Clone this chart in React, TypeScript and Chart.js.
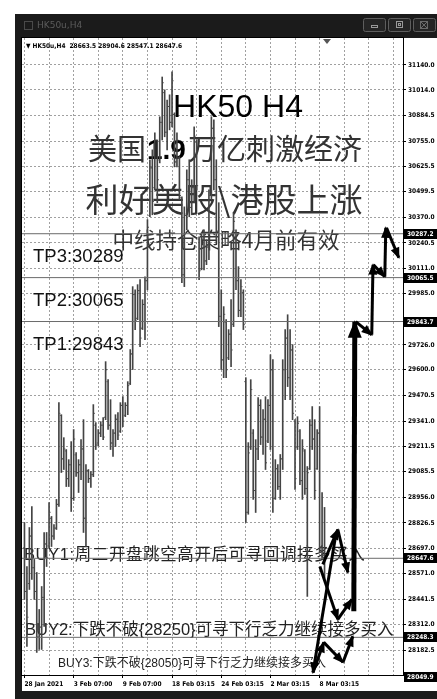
import React, { useEffect, useRef } from 'react';
import { Chart, registerables } from 'chart.js';

Chart.register(...registerables);

const CW = 437;
const CH = 699;

// ---- OHLC bars (H4), index 0 = 28 Jan 2021 ----
const barOpen = [
  28700, 28480, 28520, 28760, 28600, 28480, 28250, 28300, 28450, 28720,
  28710, 28850, 28760, 28800, 28920, 29370, 29150, 29190, 29050, 29120,
  28950, 29170, 29080, 29120, 29200, 28850, 29090, 29050, 29070, 29320,
  29230, 29280, 29320, 29360, 29540, 29320, 29230, 29280, 29350, 29290,
  29420, 29370, 29420, 29530, 29680, 29980, 29860, 30000, 29810, 29930,
  30050, 30380, 30620, 30520, 30760, 30660, 30850, 31000, 30800, 30930,
  30850, 30890, 30650, 30670, 30470, 30080, 30380, 30560, 30420, 30520,
  30750, 30260, 30110, 30260, 30150, 30220, 30480, 30820, 30560, 30300,
  29870, 29650, 29840, 29660, 29780, 29830, 30290, 30050, 29900, 29990,
  29540, 28880, 29210, 29280, 28990, 29200, 29420, 29260, 29350, 29240,
  29420, 29600, 28950, 29100, 29010, 29150, 29600, 29760, 29560, 29700,
  29340, 29210, 29290, 29040, 29190, 29000, 29100, 29320, 29250, 29100,
  29280, 28700, 28663.5,
];
const barHigh = [
  28828, 28606, 28803, 28909, 28642, 28576, 28389, 28505, 28778, 28778,
  28929, 28859, 28818, 28945, 29434, 29373, 29257, 29197, 29146, 29237,
  29298, 29182, 29146, 29247, 29348, 29121, 29096, 29086, 29424, 29333,
  29298, 29338, 29358, 29641, 29550, 29449, 29298, 29373, 29384, 29434,
  29464, 29434, 29540, 29702, 30020, 30004, 30030, 30055, 29954, 30070,
  30358, 30661, 30711, 30797, 30761, 30878, 31079, 31014, 30963, 30989,
  31105, 30898, 30797, 30676, 30474, 30423, 30610, 30661, 30560, 30827,
  30761, 30272, 30292, 30307, 30257, 30509, 30878, 30862, 30661, 30444,
  30004, 29919, 29853, 29803, 29954, 30393, 30307, 30121, 30055, 30004,
  29560, 29232, 29550, 29298, 29247, 29459, 29449, 29399, 29464, 29449,
  29676, 29651, 29146, 29121, 29172, 29651, 29803, 29878, 29803, 29727,
  29348, 29363, 29298, 29247, 29197, 29111, 29348, 29414, 29348, 29298,
  29414, 28980, 28904.6,
];
const barLow = [
  28440, 28203, 28490, 28541, 28440, 28172, 28187, 28187, 28304, 28606,
  28700, 28707, 28743, 28793, 28910, 29081, 29096, 29010, 29010, 28884,
  28940, 29061, 28980, 29045, 28778, 28707, 29030, 29005, 29060, 29197,
  29215, 29262, 29247, 29348, 29298, 29197, 29162, 29212, 29247, 29283,
  29313, 29363, 29373, 29525, 29601, 29803, 29853, 29717, 29803, 29752,
  30004, 30373, 30383, 30509, 30444, 30645, 30761, 30777, 30711, 30812,
  30827, 30625, 30625, 30459, 30040, 30020, 30307, 30373, 30383, 30444,
  30509, 30055, 30105, 30105, 30131, 30156, 30460, 30509, 30257, 29818,
  29601, 29560, 29560, 29651, 29616, 29818, 30004, 29868, 29868, 29803,
  28829, 28870, 29197, 28945, 28879, 29146, 29222, 29172, 29096, 29232,
  29197, 28879, 28945, 28995, 28945, 29096, 29449, 29515, 29449, 29348,
  28995, 29197, 29020, 28945, 28970, 28455, 29096, 29197, 28945, 29096,
  28677, 28640, 28547.1,
];
const barClose = [
  28480, 28350, 28760, 28600, 28480, 28250, 28300, 28450, 28720, 28650,
  28880, 28760, 28800, 28920, 29380, 29150, 29200, 29050, 29120, 28950,
  29250, 29080, 29120, 29200, 28850, 29090, 29050, 29070, 29380, 29220,
  29280, 29320, 29260, 29600, 29320, 29230, 29280, 29350, 29270, 29420,
  29340, 29420, 29520, 29680, 29980, 29850, 30000, 29760, 29930, 30050,
  30320, 30620, 30450, 30760, 30560, 30850, 31050, 30800, 30930, 30850,
  31060, 30650, 30760, 30480, 30080, 30380, 30560, 30420, 30520, 30780,
  30530, 30100, 30260, 30150, 30220, 30480, 30820, 30560, 30300, 29870,
  29650, 29880, 29600, 29780, 29700, 30350, 30050, 29900, 30020, 29830,
  28880, 29180, 29500, 28990, 29200, 29420, 29260, 29350, 29130, 29420,
  29600, 28950, 29100, 29010, 29150, 29600, 29760, 29560, 29700, 29380,
  29050, 29330, 29040, 29200, 29000, 29080, 29320, 29250, 28990, 29280,
  28700, 28663.5, 28647.6,
];

// ---- axes ----
const yTickValues = [
  31140.0, 31014.0, 30884.5, 30755.0, 30625.5, 30499.5, 30370.0, 30240.5,
  30111.0, 29985.0, 29726.0, 29600.0, 29470.5, 29341.0, 29211.5, 29085.5,
  28956.0, 28826.5, 28697.0, 28571.0, 28441.5, 28312.0, 28182.5,
];
const gridIndex = [0, 10, 20, 30, 40, 50, 60, 70, 80, 90, 100, 110, 120, 130, 140, 150];
const dateLabelIndex = [0, 20, 40, 60, 80, 100, 120];
const dateLabels = [
  '28 Jan 2021', '3 Feb 07:00', '9 Feb 07:00', '18 Feb 03:15',
  '24 Feb 03:15', '2 Mar 03:15', '8 Mar 03:15',
];
const X_MIN = -1;
const X_MAX = 153.9;
const Y_MIN = 28058;
const Y_MAX = 31276;

// ---- horizontal levels ----
const levelValues = [30287.2, 30065.5, 29843.7, 28647.6, 28248.3, 28049.9];
const tpLevels = [30287.2, 30065.5, 29843.7];
const tpTexts = ['TP3:30289', 'TP2:30065', 'TP1:29843'];
const buyTexts = [
  'BUY1:周二开盘跳空高开后可寻回调接多买入',
  'BUY2:下跌不破{28250}可寻下行乏力继续接多买入',
  'BUY3:下跌不破{28050}可寻下行乏力继续接多买入',
];
const headline = 'HK50 H4';
const line1 = ['美国', '1.9', '万亿刺激经济'];
const line2 = '利好美股\\港股上涨';
const line3 = '中线持仓策略4月前有效';
const symbol = 'HK50u,H4';
const headerValues = [28663.5, 28904.6, 28547.1, 28647.6];

// ---- projected path arrows (bar index, price) ----
const arrowFromIdx = [121.3, 127.4, 120.1, 127.4, 126.6, 117.3, 121.7, 129.5, 133.9, 134.7, 141.2, 141.9, 146.5, 147.2];
const arrowFromPrice = [28617, 28793, 28606, 28339, 28768, 28071, 28223, 28122, 28380, 29843, 29777, 30131, 30070, 30317];
const arrowToIdx = [127.4, 131.5, 127.4, 133.1, 117.3, 121.7, 129.5, 133.5, 134.3, 141.2, 141.7, 146.5, 146.9, 152.2];
const arrowToPrice = [28793, 28576, 28339, 28440, 28071, 28223, 28122, 28253, 29843, 29777, 30131, 30070, 30317, 30166];
const HEAVY_ARROW = 8;

const LEVEL_DS_START = 1;
const ARROW_DS_START = LEVEL_DS_START + levelValues.length;

function arrowHead(ctx: any, x0: number, y0: number, x1: number, y1: number, len: number, half: number) {
  const a = Math.atan2(y1 - y0, x1 - x0);
  const c = Math.cos(a);
  const s = Math.sin(a);
  ctx.beginPath();
  ctx.moveTo(x1 + c * 1.5, y1 + s * 1.5);
  ctx.lineTo(x1 - len * c + half * s, y1 - len * s - half * c);
  ctx.lineTo(x1 - len * c - half * s, y1 - len * s + half * c);
  ctx.closePath();
  ctx.fill();
}

const sceneryPlugin = {
  id: 'scenery',
  beforeDraw(chart: any) {
    const ctx = chart.ctx;
    ctx.save();
    ctx.fillStyle = '#ffffff';
    ctx.fillRect(0, 0, CW, CH);
    ctx.fillStyle = '#1b1b1b';
    ctx.fillRect(15, 14, CW - 15, 24);
    ctx.fillRect(15, 14, 7, CH - 14);
    ctx.fillRect(15, 691, CW - 15, CH - 691);
    ctx.restore();
  },
  beforeDatasetsDraw(chart: any) {
    const ctx = chart.ctx;
    const ys = chart.scales.y;
    ctx.save();
    ctx.fillStyle = '#000';
    ctx.textAlign = 'center';
    ctx.textBaseline = 'alphabetic';
    ctx.font = '32px "Liberation Sans"';
    ctx.fillText(headline, 238, 117);

    const cjk = (s: number) => `${s}px "Noto Sans CJK SC"`;
    const cjkColor = '#333333';
    ctx.textAlign = 'left';
    let x = 88;
    ctx.fillStyle = cjkColor;
    ctx.textBaseline = 'middle';
    ctx.font = cjk(29);
    ctx.fillText(line1[0], x, 149);
    x += ctx.measureText(line1[0]).width + 1;
    ctx.fillStyle = '#000';
    ctx.textBaseline = 'alphabetic';
    ctx.font = 'bold 28px "Liberation Sans"';
    ctx.fillText(line1[1], x, 159);
    x += ctx.measureText(line1[1]).width + 2;
    ctx.fillStyle = cjkColor;
    ctx.textBaseline = 'middle';
    ctx.font = cjk(29);
    ctx.fillText(line1[2], x, 149);

    ctx.textAlign = 'center';
    ctx.font = cjk(33);
    ctx.fillText(line2, 224, 199);
    ctx.font = cjk(21.5);
    ctx.fillText(line3, 226, 240);

    ctx.textAlign = 'left';
    ctx.textBaseline = 'alphabetic';
    ctx.fillStyle = '#111';
    ctx.font = '18.5px "Liberation Sans"';
    tpTexts.forEach((t, i) => ctx.fillText(t, 33, ys.getPixelForValue(tpLevels[i]) + 28));

    ctx.fillStyle = '#222';
    ctx.font = '16.5px "Liberation Sans", "Noto Sans CJK SC"';
    (ctx as any).letterSpacing = '0.6px';
    ctx.fillText(buyTexts[0], 24, 560);
    (ctx as any).letterSpacing = '0px';
    ctx.fillText(buyTexts[1], 25, 635);
    ctx.font = '12px "Liberation Sans", "Noto Sans CJK SC"';
    ctx.fillText(buyTexts[2], 58, 667);
    ctx.restore();
  },
  afterDatasetDraw(chart: any, args: any) {
    const ctx = chart.ctx;
    const ca = chart.chartArea;
    if (args.index === 0) {
      const xs = chart.scales.x;
      const ys = chart.scales.y;
      ctx.save();
      ctx.beginPath();
      ctx.rect(ca.left, ca.top, ca.right - ca.left, ca.bottom - ca.top);
      ctx.clip();
      ctx.fillStyle = '#444';
      for (let i = 0; i < barOpen.length; i++) {
        const px = xs.getPixelForValue(i);
        const yo = ys.getPixelForValue(barOpen[i]);
        const yc = ys.getPixelForValue(barClose[i]);
        ctx.fillRect(px - 1.5, yo - 0.5, 1, 1);
        ctx.fillRect(px + 0.5, yc - 0.5, 1, 1);
      }
      ctx.restore();
    } else if (args.index >= ARROW_DS_START) {
      const k = args.index - ARROW_DS_START;
      const meta = chart.getDatasetMeta(args.index);
      const p0 = meta.data[0];
      const p1 = meta.data[1];
      ctx.save();
      ctx.fillStyle = '#000';
      if (k === HEAVY_ARROW) arrowHead(ctx, p0.x, p0.y, p1.x, p1.y, 16, 7);
      else arrowHead(ctx, p0.x, p0.y, p1.x, p1.y, 10, 4.5);
      ctx.restore();
    }
  },
  afterDraw(chart: any) {
    const ctx = chart.ctx;
    const ca = chart.chartArea;
    const ys = chart.scales.y;
    ctx.save();
    ctx.strokeStyle = '#000';
    ctx.lineWidth = 1;
    ctx.strokeRect(ca.left - 0.5, ca.top - 0.5, ca.right - ca.left + 1, ca.bottom - ca.top + 1);

    ctx.font = 'bold 6.5px "DejaVu Sans Condensed"';
    ctx.textBaseline = 'middle';
    ctx.textAlign = 'left';
    levelValues.forEach((v) => {
      const y = Math.round(ys.getPixelForValue(v));
      ctx.fillStyle = '#000';
      ctx.fillRect(404, y - 5, CW - 404, 10);
      ctx.fillStyle = '#fff';
      ctx.fillText(v.toFixed(1), 407, y + 0.5);
    });

    ctx.fillStyle = '#000';
    ctx.font = 'bold 6.5px "DejaVu Sans Condensed"';
    ctx.fillText('▼ ' + symbol + '  ' + headerValues.map((v) => v.toFixed(1)).join(' '), 26, 46);

    ctx.fillStyle = '#555';
    ctx.beginPath();
    ctx.moveTo(323, 39);
    ctx.lineTo(331, 39);
    ctx.lineTo(327, 44);
    ctx.closePath();
    ctx.fill();

    ctx.fillStyle = '#5c5c5c';
    ctx.font = '9px "DejaVu Sans"';
    ctx.fillText(symbol, 37, 26);
    ctx.strokeStyle = '#4a4a4a';
    ctx.strokeRect(24.5, 21.5, 8, 8);
    const bx = [363, 388, 413];
    bx.forEach((b, k) => {
      ctx.fillStyle = '#252525';
      ctx.strokeStyle = '#5e5e5e';
      ctx.beginPath();
      (ctx as any).roundRect(b + 0.5, 18.5, 22, 13, 2);
      ctx.fill();
      ctx.stroke();
      ctx.strokeStyle = '#9a9a9a';
      if (k === 0) {
        ctx.strokeRect(b + 8.5, 25.5, 6, 2);
      } else if (k === 1) {
        ctx.strokeRect(b + 8.5, 21.5, 6, 6);
        ctx.strokeRect(b + 10.5, 23.5, 2, 2);
      } else {
        ctx.strokeStyle = '#6a6a6a';
        ctx.strokeRect(b + 7.5, 21.5, 7, 7);
        ctx.beginPath();
        ctx.moveTo(b + 8, 22);
        ctx.lineTo(b + 14, 28);
        ctx.moveTo(b + 14, 22);
        ctx.lineTo(b + 8, 28);
        ctx.stroke();
      }
    });
    ctx.restore();
  },
};

export default function App() {
  const ref = useRef<HTMLCanvasElement | null>(null);

  useEffect(() => {
    if (!ref.current) return;
    const datasets: any[] = [];
    datasets.push({
      type: 'bar',
      data: barHigh.map((h, i) => ({ x: i, y: [barLow[i], h] })),
      backgroundColor: '#444',
      borderWidth: 0,
      barThickness: 1,
      order: 3,
    });
    levelValues.forEach((v) => {
      datasets.push({
        type: 'line',
        data: [{ x: X_MIN, y: v }, { x: X_MAX, y: v }],
        borderColor: '#6a6a6a',
        borderWidth: 1,
        pointRadius: 0,
        fill: false,
        order: 2,
      });
    });
    arrowFromIdx.forEach((_, k) => {
      datasets.push({
        type: 'line',
        data: [
          { x: arrowFromIdx[k], y: arrowFromPrice[k] },
          { x: arrowToIdx[k], y: arrowToPrice[k] },
        ],
        borderColor: '#000',
        borderWidth: k === HEAVY_ARROW ? 5 : 3,
        borderCapStyle: 'butt',
        pointRadius: 0,
        fill: false,
        order: 1,
      });
    });

    const gridStyle = {
      color: '#a0a0a0',
      lineWidth: 1,
      drawTicks: true,
      tickLength: 3,
      tickBorderDash: [],
      offset: false,
    };

    const chart = new Chart(ref.current, {
      type: 'bar',
      data: { datasets },
      options: {
        responsive: false,
        animation: false,
        devicePixelRatio: 1,
        events: [],
        layout: { padding: { left: 22, top: 38, right: 0, bottom: 0 } },
        plugins: { legend: { display: false }, tooltip: { enabled: false } },
        scales: {
          x: {
            type: 'linear',
            min: X_MIN,
            max: X_MAX,
            offset: false,
            afterBuildTicks: (axis: any) => {
              axis.ticks = gridIndex.map((v) => ({ value: v }));
            },
            afterFit: (axis: any) => {
              axis.height = 24;
            },
            grid: {
              ...gridStyle,
              tickColor: (c: any) =>
                c.tick && dateLabelIndex.indexOf(c.tick.value) >= 0 ? '#000' : 'rgba(0,0,0,0)',
            },
            border: { display: false, dash: [2, 2] },
            ticks: {
              autoSkip: false,
              maxRotation: 0,
              minRotation: 0,
              align: 'start',
              padding: 2,
              color: '#000',
              font: { family: 'DejaVu Sans Condensed', size: 6.5, weight: 'bold' },
              callback: (v: any) => {
                const j = dateLabelIndex.indexOf(Number(v));
                return j >= 0 ? dateLabels[j] : '';
              },
            },
          },
          y: {
            type: 'linear',
            position: 'right',
            min: Y_MIN,
            max: Y_MAX,
            afterBuildTicks: (axis: any) => {
              axis.ticks = yTickValues.map((v) => ({ value: v }));
            },
            afterFit: (axis: any) => {
              axis.width = 34;
            },
            grid: { ...gridStyle, tickColor: '#000' },
            border: { display: false, dash: [2, 2] },
            ticks: {
              autoSkip: false,
              padding: 2,
              color: '#000',
              font: { family: 'DejaVu Sans Condensed', size: 6.5, weight: 'bold' },
              callback: (v: any) => Number(v).toFixed(1),
            },
          },
        },
      } as any,
      plugins: [sceneryPlugin as any],
    });
    return () => chart.destroy();
  }, []);

  return (
    <div style={{ position: 'fixed', left: 0, top: 0, width: CW, height: CH }}>
      <canvas ref={ref} width={CW} height={CH} style={{ display: 'block', width: CW, height: CH }} />
    </div>
  );
}
